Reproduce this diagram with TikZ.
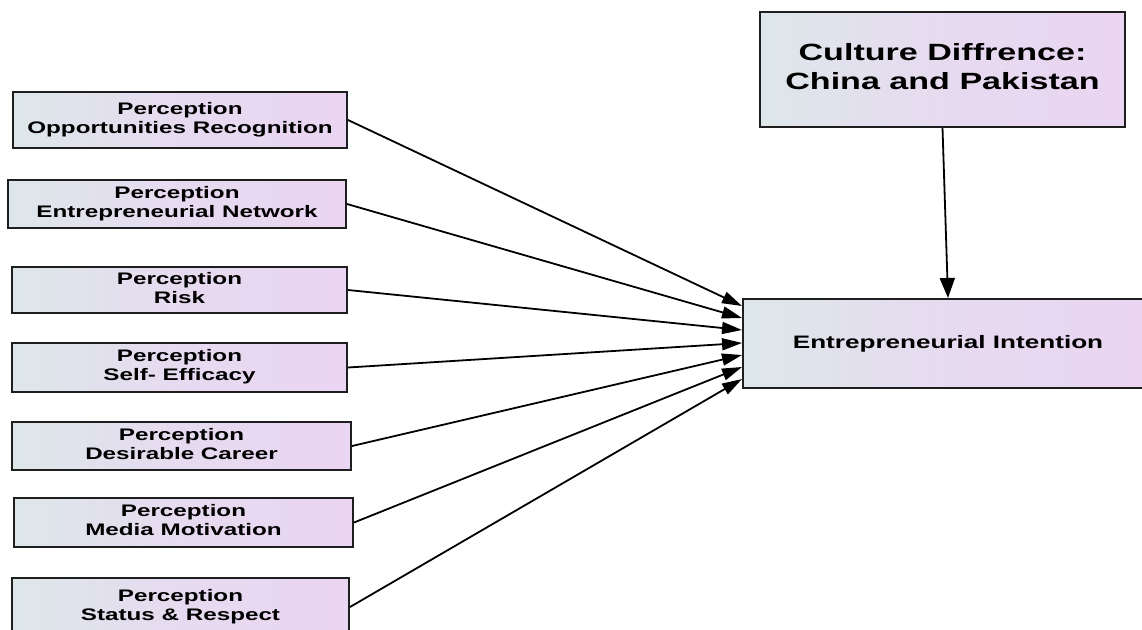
\documentclass[tikz,border=0pt]{standalone}
\usepackage{fontspec}
\setmainfont{Liberation Sans}
\usepackage{graphicx}
\usetikzlibrary{arrows.meta,calc}
\definecolor{gradL}{HTML}{DDE7EA}
\definecolor{gradR}{HTML}{EAD5F2}
\definecolor{edge}{HTML}{1E1E1E}
\newcommand{\twoline}[2]{\scalebox{1.45}[1]{\begin{tabular}{@{}c@{}}#1\\#2\end{tabular}}}
\tikzset{
  boxnode/.style={draw=edge, line width=2pt, inner sep=0pt, rectangle,
    left color=gradL, right color=gradR, middle color=gradR!70!gradL,
    font=\bfseries\fontsize{16.7}{19}\selectfont},
  bigbox/.style={boxnode, font=\bfseries\fontsize{23.5}{29}\selectfont},
  conn/.style={line width=1.8pt, -{Triangle[length=20pt 0 0,width=12pt 0 0]}},
}
\begin{document}
\begin{tikzpicture}[x=1pt,y=-1pt]
\useasboundingbox (0,0) rectangle (1142,629);
% left boxes
\node[boxnode, minimum width=334pt, minimum height=56pt] (b1) at (180,120) {\twoline{Perception}{Opportunities Recognition}};
\node[boxnode, minimum width=338pt, minimum height=48pt] (b2) at (177,204) {\twoline{Perception}{Entrepreneurial Network}};
\node[boxnode, minimum width=335pt, minimum height=46pt] (b3) at (179.5,290) {\twoline{Perception}{Risk}};
\node[boxnode, minimum width=335pt, minimum height=49pt] (b4) at (179.5,367.5) {\twoline{Perception}{Self- Efficacy}};
\node[boxnode, minimum width=339pt, minimum height=48pt] (b5) at (181.5,446) {\twoline{Perception}{Desirable Career}};
\node[boxnode, minimum width=339pt, minimum height=49pt] (b6) at (183.5,522.5) {\twoline{Perception}{Media Motivation}};
\node[boxnode, minimum width=337pt, minimum height=58pt] (b7) at (180.5,607) {\twoline{Perception}{Status \& Respect}};
% right boxes
\node[bigbox, minimum width=365pt, minimum height=115pt] (cd) at (942.5,69.5) {\twoline{Culture Diffrence:}{China and Pakistan}};
\node[boxnode, minimum width=410pt, minimum height=89pt, font=\bfseries\fontsize{18}{21}\selectfont] (ei) at (948,343.5) {\scalebox{1.45}[1]{Entrepreneurial Intention}};
% arrow targets on the left side of the intention box
\coordinate (t1) at ($(ei.north west)+(0,8)$);
\coordinate (t2) at ($(ei.north west)+(0,20)$);
\coordinate (t3) at ($(ei.north west)+(0,32)$);
\coordinate (t4) at ($(ei.north west)+(0,45)$);
\coordinate (t5) at ($(ei.north west)+(0,57)$);
\coordinate (t6) at ($(ei.north west)+(0,69)$);
\coordinate (t7) at ($(ei.north west)+(0,81)$);
\draw[conn] (b1.east) -- (t1);
\draw[conn] (b2.east) -- (t2);
\draw[conn] (b3.east) -- (t3);
\draw[conn] (b4.east) -- (t4);
\draw[conn] (b5.east) -- (t5);
\draw[conn] (b6.east) -- (t6);
\draw[conn] (b7.east) -- (t7);
\draw[conn, -{Triangle[length=20pt 0 0,width=15pt 0 0]}] (cd.south) -- (ei.north);
\end{tikzpicture}
\end{document}
